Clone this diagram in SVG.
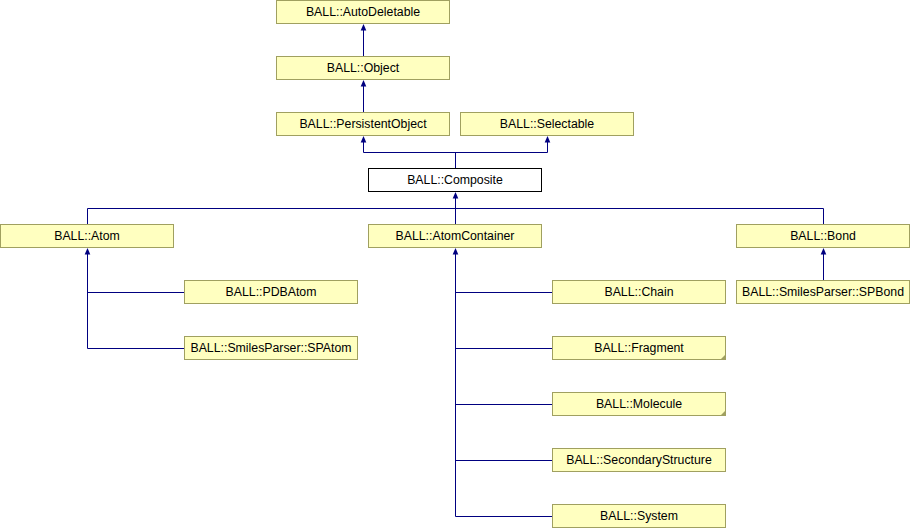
<svg xmlns="http://www.w3.org/2000/svg" width="910" height="528" viewBox="0 0 910 528">
<style>
.b{fill:#ffffc0;stroke:#a0a060;stroke-width:1}
.w{fill:#ffffff;stroke:#000000;stroke-width:1}
.t{font-family:"Liberation Sans",Arial,sans-serif;font-size:12.3px;fill:#000000;text-anchor:middle}
.c{fill:#a0a060;stroke:none}
.e{fill:none;stroke:#000080;stroke-width:1}
.a{fill:#000080;stroke:none}
</style>
<defs>
<path id="arr" d="M0,0 L2.8,6.5 L-2.8,6.5 Z"/>
</defs>
<rect width="910" height="528" fill="#ffffff"/>
<g id="connectors">
<path class="e" d="M363.5,56 V26"/>
<path class="e" d="M363.5,112 V82"/>
<path class="e" d="M455.5,168 V152.5 M363.5,152.5 H547.5 M363.5,152.5 V138 M547.5,152.5 V138"/>
<path class="e" d="M87.5,224 V208.5 H823.5 V224 M455.5,224 V194"/>
<path class="e" d="M87.5,348.5 V250 M87.5,292.5 H184 M87.5,348.5 H184"/>
<path class="e" d="M455.5,516.5 V250 M455.5,292.5 H552 M455.5,348.5 H552 M455.5,404.5 H552 M455.5,460.5 H552 M455.5,516.5 H552"/>
<path class="e" d="M823.5,280 V250"/>
<use href="#arr" class="a" x="363.5" y="24"/>
<use href="#arr" class="a" x="363.5" y="80"/>
<use href="#arr" class="a" x="363.5" y="136"/>
<use href="#arr" class="a" x="547.5" y="136"/>
<use href="#arr" class="a" x="455.5" y="192"/>
<use href="#arr" class="a" x="87.5" y="248"/>
<use href="#arr" class="a" x="455.5" y="248"/>
<use href="#arr" class="a" x="823.5" y="248"/>
</g>
<g id="AutoDeletable"><rect class="b" x="276.5" y="0.5" width="173" height="23"/><text class="t" x="363" y="16">BALL::AutoDeletable</text></g>
<g id="Object"><rect class="b" x="276.5" y="56.5" width="173" height="23"/><text class="t" x="363" y="72">BALL::Object</text></g>
<g id="PersistentObject"><rect class="b" x="276.5" y="112.5" width="173" height="23"/><text class="t" x="363" y="128">BALL::PersistentObject</text></g>
<g id="Selectable"><rect class="b" x="460.5" y="112.5" width="173" height="23"/><text class="t" x="547" y="128">BALL::Selectable</text></g>
<g id="Composite"><rect class="w" x="368.5" y="168.5" width="173" height="23"/><text class="t" x="455" y="184">BALL::Composite</text></g>
<g id="Atom"><rect class="b" x="0.5" y="224.5" width="173" height="23"/><text class="t" x="87" y="240">BALL::Atom</text></g>
<g id="AtomContainer"><rect class="b" x="368.5" y="224.5" width="173" height="23"/><text class="t" x="455" y="240">BALL::AtomContainer</text></g>
<g id="Bond"><rect class="b" x="736.5" y="224.5" width="173" height="23"/><text class="t" x="823" y="240">BALL::Bond</text></g>
<g id="PDBAtom"><rect class="b" x="184.5" y="280.5" width="173" height="23"/><text class="t" x="271" y="296">BALL::PDBAtom</text></g>
<g id="SPAtom"><rect class="b" x="184.5" y="336.5" width="173" height="23"/><text class="t" x="271" y="352">BALL::SmilesParser::SPAtom</text></g>
<g id="Chain"><rect class="b" x="552.5" y="280.5" width="173" height="23"/><text class="t" x="639" y="296">BALL::Chain</text></g>
<g id="Fragment"><rect class="b" x="552.5" y="336.5" width="173" height="23"/><path class="c" d="M726,354 V360 H720 Z"/><text class="t" x="639" y="352">BALL::Fragment</text></g>
<g id="Molecule"><rect class="b" x="552.5" y="392.5" width="173" height="23"/><path class="c" d="M726,410 V416 H720 Z"/><text class="t" x="639" y="408">BALL::Molecule</text></g>
<g id="SecondaryStructure"><rect class="b" x="552.5" y="448.5" width="173" height="23"/><text class="t" x="639" y="464">BALL::SecondaryStructure</text></g>
<g id="System"><rect class="b" x="552.5" y="504.5" width="173" height="23"/><text class="t" x="639" y="520">BALL::System</text></g>
<g id="SPBond"><rect class="b" x="736.5" y="280.5" width="173" height="23"/><text class="t" x="823" y="296">BALL::SmilesParser::SPBond</text></g>
</svg>
